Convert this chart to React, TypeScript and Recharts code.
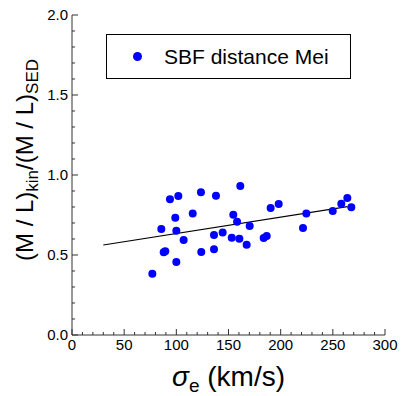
import { ComposedChart, Scatter, XAxis, YAxis } from "recharts"

// sigma_e (km/s) and (M/L)kin/(M/L)SED
const sigmaE = [77, 85.6, 87.9, 89.4, 93.9, 99, 100, 100, 101.9, 107, 115.7, 123.6, 123.9, 136.1, 136.1, 138, 144.4, 153.1, 154.6, 158.2, 160.4, 161.3, 167.4, 170.3, 183.7, 186.6, 190.4, 198.1, 221.4, 224.6, 249.9, 258.1, 263.9, 267.7]
const mlRatio = [0.383, 0.663, 0.517, 0.523, 0.848, 0.733, 0.652, 0.456, 0.869, 0.594, 0.76, 0.892, 0.519, 0.625, 0.536, 0.871, 0.64, 0.608, 0.752, 0.708, 0.602, 0.931, 0.564, 0.681, 0.606, 0.619, 0.794, 0.819, 0.669, 0.76, 0.775, 0.821, 0.856, 0.798]

// fitted line end points
const fitX = [30, 264]
const fitY = [0.5625, 0.802]

const seriesName = "SBF distance Mei"

const xTicks = Array.from({ length: 31 }, (_, i) => i * 10)
const yTicks = Array.from({ length: 21 }, (_, i) => Math.round(i * 10) / 100)

const points = sigmaE.map((s, i) => ({ x: s, y: mlRatio[i] }))
const fitLine = fitX.map((x, i) => ({ x, y: fitY[i] }))

const FONT = "'Liberation Sans', Arial, Helvetica, sans-serif"
const AXIS = "#333"

const isMajorX = (v: number) => v % 50 === 0
const isMajorY = (v: number) => Math.abs(v * 2 - Math.round(v * 2)) < 1e-6

const BottomTick = (p: any) => {
    const v = p.payload.value
    const major = isMajorX(v)
    return (
        <g>
            <line x1={p.x} x2={p.x} y1={p.y} y2={p.y - (major ? 6 : 3)} stroke={AXIS} />
            {major && (
                <text x={p.x} y={p.y + 15} textAnchor="middle" fontSize={15} fontFamily={FONT} fill="#000">{v}</text>
            )}
        </g>
    )
}

const TopTick = (p: any) => {
    const major = isMajorX(p.payload.value)
    return <line x1={p.x} x2={p.x} y1={p.y} y2={p.y + (major ? 6 : 3)} stroke={AXIS} />
}

const LeftTick = (p: any) => {
    const v = p.payload.value
    const major = isMajorY(v)
    return (
        <g>
            <line x1={p.x} x2={p.x + (major ? 6 : 3)} y1={p.y} y2={p.y} stroke={AXIS} />
            {major && (
                <text x={p.x - 4} y={p.y + 5} textAnchor="end" fontSize={15} fontFamily={FONT} fill="#000">{v.toFixed(1)}</text>
            )}
        </g>
    )
}

const RightTick = (p: any) => {
    const major = isMajorY(p.payload.value)
    return <line x1={p.x} x2={p.x - (major ? 6 : 3)} y1={p.y} y2={p.y} stroke={AXIS} />
}

const XTitle = (p: any) => {
    const vb = p.viewBox
    return (
        <text x={vb.x + vb.width / 2} y={vb.y + 51} textAnchor="middle" fontSize={28} fontFamily={FONT} fill="#000">
            <tspan fontStyle="italic">σ</tspan>
            <tspan fontSize={19} dy={6}>e</tspan>
            <tspan dy={-6}> (km/s)</tspan>
        </text>
    )
}

const YTitle = (p: any) => {
    const vb = p.viewBox
    const cx = 33
    const cy = vb.y + 145
    return (
        <text x={cx} y={cy} transform={`rotate(-90 ${cx} ${cy})`} textAnchor="middle" fontSize={24} fontFamily={FONT} fill="#000">
            <tspan>(M / L)</tspan>
            <tspan fontSize={17} dy={5}>kin</tspan>
            <tspan dy={-5}>/(M / L)</tspan>
            <tspan fontSize={17} dy={5}>SED</tspan>
        </text>
    )
}

export default function App() {
    return (
        <div style={{ position: "absolute", left: 0, top: 0, width: 407, height: 396, background: "#fff" }}>
            <ComposedChart width={407} height={396} margin={{ top: 15, right: 22, bottom: 0, left: 0 }}>
                <XAxis xAxisId="b" type="number" dataKey="x" domain={[0, 300]} ticks={xTicks} interval={0}
                    orientation="bottom" height={61} tickSize={0} tickMargin={0} tickLine={false}
                    axisLine={{ stroke: AXIS }} tick={<BottomTick />} label={<XTitle />} />
                <XAxis xAxisId="t" type="number" dataKey="x" domain={[0, 300]} ticks={xTicks} interval={0}
                    orientation="top" height={0} tickSize={0} tickMargin={0} tickLine={false}
                    axisLine={{ stroke: AXIS }} tick={<TopTick />} />
                <YAxis yAxisId="l" type="number" dataKey="y" domain={[0, 2]} ticks={yTicks} interval={0}
                    orientation="left" width={72} tickSize={0} tickMargin={0} tickLine={false}
                    axisLine={{ stroke: AXIS }} tick={<LeftTick />} label={<YTitle />} />
                <YAxis yAxisId="r" type="number" dataKey="y" domain={[0, 2]} ticks={yTicks} interval={0}
                    orientation="right" width={0} tickSize={0} tickMargin={0} tickLine={false}
                    axisLine={{ stroke: AXIS }} tick={<RightTick />} />
                <Scatter xAxisId="t" yAxisId="r" data={fitLine} legendType="none" isAnimationActive={false}
                    line={{ stroke: "#000", strokeWidth: 1.2 }} shape={() => <g />} />
                <Scatter xAxisId="b" yAxisId="l" name={seriesName} data={points} fill="#0000ff" isAnimationActive={false}
                    shape={(p: any) => <circle cx={p.cx} cy={p.cy} r={4} fill="#0000ff" />} />
            </ComposedChart>
            {/* legend box drawn over the plot so it takes no layout space */}
            <div style={{ position: "absolute", left: 106, top: 34, width: 245, height: 45, border: "1px solid #000", boxSizing: "border-box", display: "flex", alignItems: "center", fontFamily: FONT, fontSize: 21, background: "#fff" }}>
                <span style={{ display: "inline-block", width: 9, height: 9, borderRadius: "50%", background: "#0000ff", marginLeft: 26, marginRight: 22 }} />
                <span>{seriesName}</span>
            </div>
        </div>
    )
}
